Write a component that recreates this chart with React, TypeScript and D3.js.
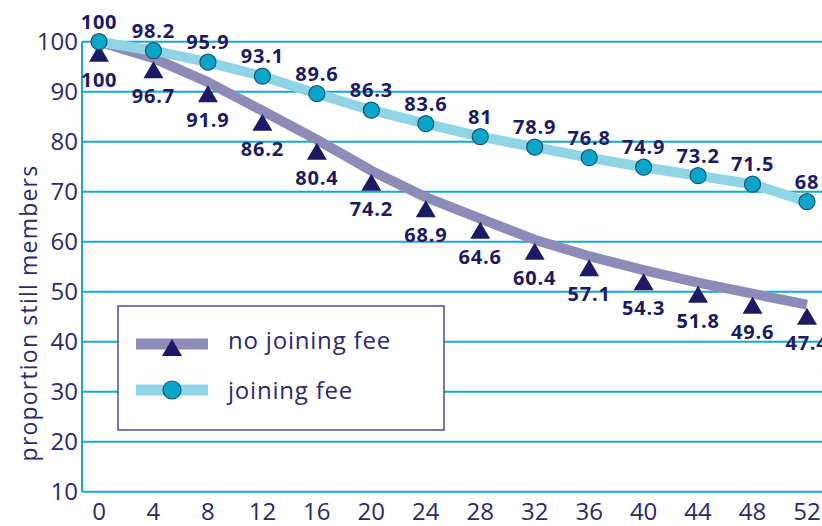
import * as d3 from 'd3';
import { useEffect, useRef } from 'react';

const weeks = [0, 4, 8, 12, 16, 20, 24, 28, 32, 36, 40, 44, 48, 52];
const noFeeValues = [100, 96.7, 91.9, 86.2, 80.4, 74.2, 68.9, 64.6, 60.4, 57.1, 54.3, 51.8, 49.6, 47.4];
const feeValues = [100, 98.2, 95.9, 93.1, 89.6, 86.3, 83.6, 81, 78.9, 76.8, 74.9, 73.2, 71.5, 68];
const yTicks = [10, 20, 30, 40, 50, 60, 70, 80, 90, 100];
const seriesNames = ['no joining fee', 'joining fee'];

const textColor = '#2a2a6c';
const gridColor = '#19a8cc';
const noFeeLine = '#8d8cb9';
const noFeeMarker = '#1b1a64';
const feeLine = '#8fd5e6';
const feeMarker = '#0aa6ca';
const fontFamily = '"Open Sans", "Noto Sans", sans-serif';

const width = 822;
const height = 526;

type Point = { week: number; value: number };

const App = () => {
  const svgRef = useRef<SVGSVGElement | null>(null);

  useEffect(() => {
    if (!svgRef.current) return;
    const svg = d3.select(svgRef.current);
    svg.selectAll('*').remove();

    const x = d3.scaleLinear().domain([0, 52]).range([99, 807]);
    const y = d3.scaleLinear().domain([10, 100]).range([491.7, 41.7]);
    const left = 82;

    const noFee: Point[] = weeks.map((week, i) => ({ week, value: noFeeValues[i] }));
    const fee: Point[] = weeks.map((week, i) => ({ week, value: feeValues[i] }));

    // horizontal grid
    svg
      .append('g')
      .selectAll('line')
      .data(yTicks)
      .join('line')
      .attr('x1', left)
      .attr('x2', width)
      .attr('y1', (d) => y(d))
      .attr('y2', (d) => y(d))
      .attr('stroke', gridColor)
      .attr('stroke-width', 2);

    svg
      .append('line')
      .attr('x1', left)
      .attr('x2', left)
      .attr('y1', y(100))
      .attr('y2', y(10))
      .attr('stroke', gridColor)
      .attr('stroke-width', 2);

    // y tick labels
    svg
      .append('g')
      .selectAll('text')
      .data(yTicks)
      .join('text')
      .attr('x', 78)
      .attr('y', (d) => y(d))
      .attr('dy', '0.36em')
      .attr('text-anchor', 'end')
      .attr('fill', textColor)
      .style('font-size', '24px')
      .style('font-family', fontFamily)
      .text((d) => d);

    // x tick labels
    svg
      .append('g')
      .selectAll('text')
      .data(weeks)
      .join('text')
      .attr('x', (d) => x(d))
      .attr('y', 520)
      .attr('text-anchor', 'middle')
      .attr('fill', textColor)
      .style('font-size', '24px')
      .style('font-family', fontFamily)
      .text((d) => d);

    svg
      .append('text')
      .attr('transform', 'translate(37, 313) rotate(-90)')
      .attr('text-anchor', 'middle')
      .attr('fill', textColor)
      .style('font-size', '23px')
      .style('letter-spacing', '1.2px')
      .style('font-family', fontFamily)
      .text('proportion still members');

    const line = d3
      .line<Point>()
      .x((d) => x(d.week))
      .y((d) => y(d.value));

    svg
      .append('path')
      .datum(noFee)
      .attr('fill', 'none')
      .attr('stroke', noFeeLine)
      .attr('stroke-width', 10)
      .attr('stroke-linejoin', 'round')
      .attr('d', line);

    svg
      .append('path')
      .datum(fee)
      .attr('fill', 'none')
      .attr('stroke', feeLine)
      .attr('stroke-width', 10)
      .attr('stroke-linejoin', 'round')
      .attr('d', line);

    const triangle = 'M0,-9 L10,8 L-10,8 Z';

    svg
      .append('g')
      .selectAll('path')
      .data(noFee)
      .join('path')
      .attr('transform', (d) => `translate(${x(d.week)}, ${y(d.value) + 12})`)
      .attr('d', triangle)
      .attr('fill', noFeeMarker);

    svg
      .append('g')
      .selectAll('circle')
      .data(fee)
      .join('circle')
      .attr('cx', (d) => x(d.week))
      .attr('cy', (d) => y(d.value))
      .attr('r', 8)
      .attr('fill', feeMarker)
      .attr('stroke', '#1d4f75')
      .attr('stroke-width', 1.2);

    // value labels
    svg
      .append('g')
      .selectAll('text')
      .data(noFee)
      .join('text')
      .attr('x', (d) => x(d.week))
      .attr('y', (d) => y(d.value) + 45)
      .attr('text-anchor', 'middle')
      .attr('fill', noFeeMarker)
      .style('font-size', '20px')
      .style('font-weight', 700)
      .style('letter-spacing', '0.8px')
      .style('font-family', fontFamily)
      .text((d) => d.value);

    svg
      .append('g')
      .selectAll('text')
      .data(fee)
      .join('text')
      .attr('x', (d) => x(d.week))
      .attr('y', (d) => y(d.value) - 13)
      .attr('text-anchor', 'middle')
      .attr('fill', noFeeMarker)
      .style('font-size', '20px')
      .style('font-weight', 700)
      .style('letter-spacing', '0.8px')
      .style('font-family', fontFamily)
      .text((d) => d.value);

    // legend
    const legend = svg.append('g');
    legend
      .append('rect')
      .attr('x', 118)
      .attr('y', 306)
      .attr('width', 326)
      .attr('height', 124)
      .attr('fill', '#ffffff')
      .attr('stroke', '#4d4c90')
      .attr('stroke-width', 1.5);

    const rows = [
      { name: seriesNames[0], lineY: 344, textY: 349, color: noFeeLine },
      { name: seriesNames[1], lineY: 390, textY: 399, color: feeLine },
    ];

    legend
      .selectAll('line.sample')
      .data(rows)
      .join('line')
      .attr('class', 'sample')
      .attr('x1', 136)
      .attr('x2', 208)
      .attr('y1', (r) => r.lineY)
      .attr('y2', (r) => r.lineY)
      .attr('stroke', (r) => r.color)
      .attr('stroke-width', 11);

    legend
      .append('path')
      .attr('transform', `translate(172, ${rows[0].lineY + 4})`)
      .attr('d', triangle)
      .attr('fill', noFeeMarker);

    legend
      .append('circle')
      .attr('cx', 172)
      .attr('cy', rows[1].lineY)
      .attr('r', 9)
      .attr('fill', feeMarker)
      .attr('stroke', '#1d4f75')
      .attr('stroke-width', 1.2);

    legend
      .selectAll('text')
      .data(rows)
      .join('text')
      .attr('x', 228)
      .attr('y', (r) => r.textY)
      .attr('fill', textColor)
      .style('font-size', '24px')
      .style('letter-spacing', '0.8px')
      .style('font-family', fontFamily)
      .text((r) => r.name);
  }, []);

  return (
    <svg
      ref={svgRef}
      width={width}
      height={height}
      style={{ position: 'absolute', left: 0, top: 0, display: 'block', background: '#fff' }}
    />
  );
};

export default App;
